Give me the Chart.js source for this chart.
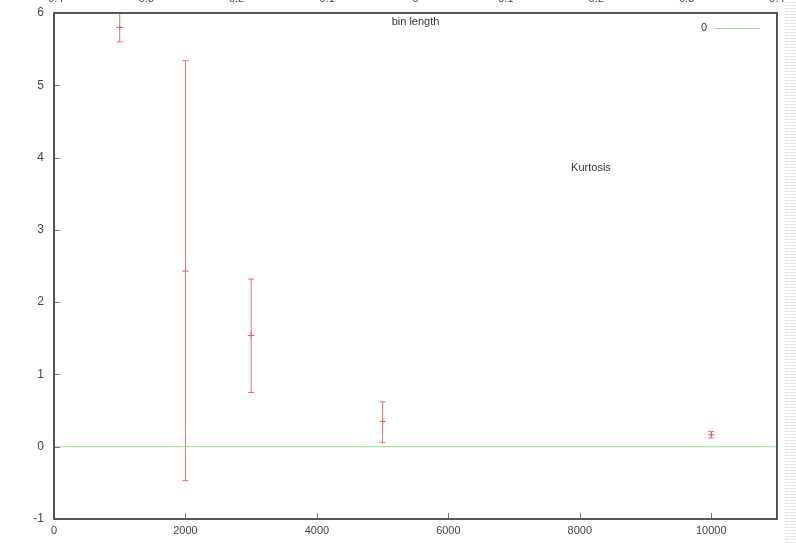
<!DOCTYPE html>
<html>
<head>
<meta charset="utf-8">
<script src="https://cdn.jsdelivr.net/npm/chart.js@4"></script>
<style>
  html, body { margin: 0; padding: 0; background: #fff; }
  #wrap { position: relative; width: 796px; height: 543px; overflow: hidden; }
  #chart { position: absolute; left: 0; top: -10px; }
  #strip {
    position: absolute; left: 785px; top: 0; width: 11px; height: 543px;
    background: repeating-linear-gradient(to bottom, #fff 0px, #fff 2px, #e4e4e4 2px, #e4e4e4 3px);
  }
</style>
</head>
<body>
<div id="wrap">
  <canvas id="chart" width="796" height="553"></canvas>
  <div id="strip"></div>
</div>
<script>
// Values
const binLengths = [1000, 2000, 3000, 5000, 10000];
const kurtosis = [5.80, 2.43, 1.54, 0.35, 0.165];
const kurtosisLow = [5.60, -0.47, 0.75, 0.055, 0.12];
const kurtosisHigh = [6.00, 5.34, 2.32, 0.62, 0.21];

const zeroX = [0, 11000];
const zeroY = [0, 0];

const xTicks = [0, 2000, 4000, 6000, 8000, 10000];
const yTicks = [-1, 0, 1, 2, 3, 4, 5, 6];
const topTicks = [-0.4, -0.3, -0.2, -0.1, 0, 0.1, 0.2, 0.3, 0.4];

const red = 'rgb(235, 110, 110)';
const green = 'rgb(150, 222, 150)';
const axisGray = '#555';
const font = { family: 'Liberation Sans, Arial, sans-serif', size: 11 };

// error bar segments, broken by nulls
const barSegments = [];
binLengths.forEach((x, i) => {
  barSegments.push({ x, y: kurtosisLow[i] }, { x, y: kurtosisHigh[i] }, { x, y: null });
});
const barCaps = [];
binLengths.forEach((x, i) => {
  barCaps.push({ x, y: kurtosisLow[i] }, { x, y: kurtosisHigh[i] });
});

// frame, inward ticks and free text like gnuplot draws them
const framePlugin = {
  id: 'frame',
  afterDraw(chart) {
    const { ctx, chartArea: a, scales } = chart;
    ctx.save();
    ctx.strokeStyle = '#777';
    ctx.lineWidth = 1;
    xTicks.forEach(v => {
      const px = Math.round(scales.x.getPixelForValue(v)) + 0.5;
      ctx.beginPath();
      ctx.moveTo(px, a.bottom);
      ctx.lineTo(px, a.bottom - 6);
      ctx.stroke();
    });
    yTicks.forEach(v => {
      const py = Math.round(scales.y.getPixelForValue(v)) + 0.5;
      ctx.beginPath();
      ctx.moveTo(a.left, py);
      ctx.lineTo(a.left + 6, py);
      ctx.stroke();
    });
    ctx.strokeStyle = axisGray;
    ctx.lineWidth = 2;
    ctx.strokeRect(a.left, a.top, a.right - a.left, a.bottom - a.top);

    ctx.fillStyle = '#333';
    ctx.font = `${font.size}px ${font.family}`;
    ctx.textAlign = 'center';
    ctx.textBaseline = 'middle';
    ctx.fillText('bin length', (a.left + a.right) / 2, a.top + 9);
    ctx.fillText('Kurtosis', scales.x.getPixelForValue(8170), scales.y.getPixelForValue(3.85));

    // key
    ctx.textAlign = 'right';
    ctx.fillText('0', a.right - 70, a.top + 15);
    ctx.strokeStyle = green;
    ctx.lineWidth = 1;
    ctx.beginPath();
    ctx.moveTo(a.right - 62, a.top + 15.5);
    ctx.lineTo(a.right - 17, a.top + 15.5);
    ctx.stroke();
    ctx.restore();
  }
};

const plain = v => String(v);

new Chart(document.getElementById('chart'), {
  type: 'scatter',
  data: {
    datasets: [
      {
        label: '0',
        type: 'line',
        data: zeroX.map((x, i) => ({ x, y: zeroY[i] })),
        borderColor: green,
        borderWidth: 1,
        pointRadius: 0,
        fill: false
      },
      {
        label: 'bars',
        type: 'line',
        data: barSegments,
        borderColor: red,
        borderWidth: 1,
        pointRadius: 0,
        spanGaps: false,
        fill: false
      },
      {
        label: 'caps',
        data: barCaps,
        pointStyle: 'line',
        pointRadius: 3,
        borderColor: red,
        borderWidth: 1
      },
      {
        label: 'Kurtosis',
        data: binLengths.map((x, i) => ({ x, y: kurtosis[i] })),
        pointStyle: 'cross',
        pointRadius: 3,
        borderColor: 'rgb(210, 80, 80)',
        borderWidth: 1
      }
    ]
  },
  options: {
    responsive: false,
    animation: false,
    layout: { padding: { left: 0, right: 19, top: 0, bottom: 0 } },
    plugins: {
      legend: { display: false },
      tooltip: { enabled: false }
    },
    scales: {
      x: {
        type: 'linear',
        position: 'bottom',
        min: 0,
        max: 11000,
        grid: { display: false, drawTicks: false },
        border: { display: false },
        ticks: { color: '#444', font, padding: 5, maxRotation: 0, callback: plain },
        afterBuildTicks: s => { s.ticks = xTicks.map(v => ({ value: v })); },
        afterFit: s => { s.height = 24; }
      },
      x2: {
        type: 'linear',
        position: 'top',
        min: -0.4,
        max: 0.4,
        grid: { display: false, drawTicks: false },
        border: { display: false },
        ticks: { color: '#444', font, padding: 7, maxRotation: 0, callback: plain },
        afterBuildTicks: s => { s.ticks = topTicks.map(v => ({ value: v })); },
        afterFit: s => { s.height = 23; }
      },
      y: {
        type: 'linear',
        min: -1,
        max: 6,
        grid: { display: false, drawTicks: false },
        border: { display: false },
        ticks: { color: '#444', font: { family: font.family, size: 12 }, padding: 10, callback: plain },
        afterBuildTicks: s => { s.ticks = yTicks.map(v => ({ value: v })); },
        afterFit: s => { s.width = 54; }
      }
    }
  },
  plugins: [framePlugin]
});
</script>
</body>
</html>
